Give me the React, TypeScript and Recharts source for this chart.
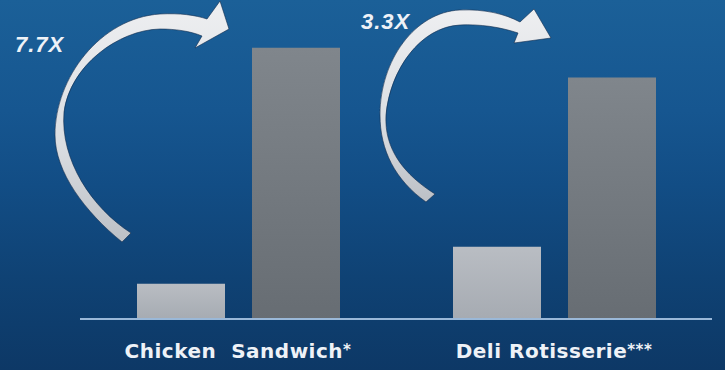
import React from "react";
import { BarChart, Bar, XAxis, YAxis } from "recharts";

const categories = ["Chicken  Sandwich*", "Deli Rotisserie***"];
const beforeValues = [1.0, 2.05];
const afterValues = [7.7, 6.86];
const multipliers = ["7.7X", "3.3X"];

const data = categories.map((c, i) => ({
  name: c,
  before: beforeValues[i],
  after: afterValues[i],
}));

const Tick = (props: any) => {
  const { x, payload } = props;
  const value: string = String(payload.value);
  const m = value.match(/^(.*?)(\**)$/);
  const main = m ? m[1] : value;
  const stars = m ? m[2] : "";
  return (
    <text
      x={x}
      y={358}
      textAnchor="middle"
      fill="#eef2f7"
      fontFamily="'DejaVu Sans', sans-serif"
      fontWeight="bold"
      fontSize={20}
      letterSpacing={0.5}
      style={{ whiteSpace: "pre" }}
      xmlSpace="preserve"
    >
      {main}
      <tspan fontSize={15} dy={-3}>{stars}</tspan>
    </text>
  );
};

const arrow1 =
  "M122,242 C85,212 55,172 55,135 C55,78 100,18 160,14 C180,13 195,15 207,19 L220,1 L229,29 L195,48 L202,36 C190,31 175,29 160,29 C118,30 70,66 64,112 C60,160 92,208 131,233 Z";
const arrow2 =
  "M426,202 C395,180 380,150 380,115 C380,60 415,12 460,10 C485,9 505,14 520,22 L534,9 L551,38 L514,43 L518,33 C500,27 480,24 460,25 C420,27 390,70 386,115 C384,150 405,175 435,194 Z";

export default function App() {
  return (
    <div
      style={{
        position: "absolute",
        left: 0,
        top: 0,
        width: 725,
        height: 370,
        background:
          "linear-gradient(180deg, #1b6098 0%, #165690 30%, #124d85 50%, #0f4274 75%, #0d3866 100%)",
        overflow: "hidden",
      }}
    >
      <BarChart
        width={725}
        height={370}
        data={data}
        margin={{ top: 2, right: 13, bottom: 0, left: 80 }}
        barSize={88}
        barGap={27}
      >
        <defs>
          <linearGradient id="lightBar" x1="0" y1="0" x2="0" y2="1">
            <stop offset="0%" stopColor="#b9bdc3" />
            <stop offset="100%" stopColor="#a6abb2" />
          </linearGradient>
          <linearGradient id="darkBar" x1="0" y1="0" x2="0" y2="1">
            <stop offset="0%" stopColor="#80868c" />
            <stop offset="100%" stopColor="#676d73" />
          </linearGradient>
        </defs>
        <YAxis hide domain={[0, 9]} />
        <XAxis
          dataKey="name"
          height={51}
          axisLine={{ stroke: "#9ab8d8", strokeWidth: 2 }}
          tickLine={false}
          tick={<Tick />}
          interval={0}
        />
        <Bar dataKey="before" fill="url(#lightBar)" isAnimationActive={false} />
        <Bar dataKey="after" fill="url(#darkBar)" isAnimationActive={false} />
      </BarChart>
      <svg
        width={725}
        height={370}
        style={{ position: "absolute", left: 0, top: 0, pointerEvents: "none" }}
      >
        <defs>
          <linearGradient id="arrowFill" x1="0" y1="0" x2="0" y2="1">
            <stop offset="0%" stopColor="#eeeff1" />
            <stop offset="60%" stopColor="#dadde1" />
            <stop offset="100%" stopColor="#bcc0c6" />
          </linearGradient>
        </defs>
        <path d={arrow1} fill="url(#arrowFill)" stroke="#102c4c" strokeWidth={1} strokeOpacity={0.6} />
        <path d={arrow2} fill="url(#arrowFill)" stroke="#102c4c" strokeWidth={1} strokeOpacity={0.6} />
        <text
          x={15}
          y={52}
          fill="#eef2f7"
          fontFamily="'Liberation Sans', Arial, sans-serif"
          fontWeight="bold"
          fontStyle="italic"
          fontSize={22}
          letterSpacing={1}
        >
          {multipliers[0]}
        </text>
        <text
          x={361}
          y={29}
          fill="#eef2f7"
          fontFamily="'Liberation Sans', Arial, sans-serif"
          fontWeight="bold"
          fontStyle="italic"
          fontSize={22}
          letterSpacing={1}
        >
          {multipliers[1]}
        </text>
      </svg>
    </div>
  );
}
